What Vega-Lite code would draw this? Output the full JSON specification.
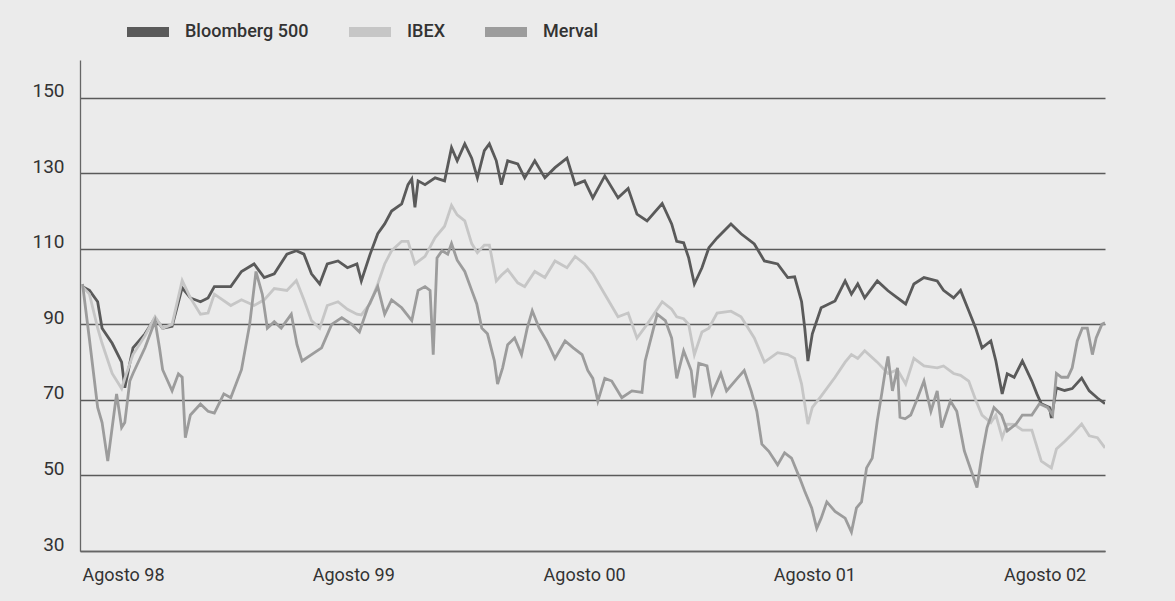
{
  "$schema": "https://vega.github.io/schema/vega-lite/v6.json",
  "width": 1025,
  "height": 491,
  "autosize": "none",
  "padding": {"left": 80, "top": 60, "right": 70, "bottom": 50},
  "background": "#ebebeb",
  "config": {
    "view": {"stroke": null},
    "font": "Roboto, sans-serif"
  },
  "data": {
    "values": [
      {"d":"1998-08-05","s":"Bloomberg 500","v":100},
      {"d":"1998-08-16","s":"Bloomberg 500","v":99},
      {"d":"1998-08-29","s":"Bloomberg 500","v":96},
      {"d":"1998-09-05","s":"Bloomberg 500","v":89},
      {"d":"1998-09-21","s":"Bloomberg 500","v":85},
      {"d":"1998-10-06","s":"Bloomberg 500","v":80},
      {"d":"1998-10-11","s":"Bloomberg 500","v":73.2},
      {"d":"1998-10-24","s":"Bloomberg 500","v":83.8},
      {"d":"1998-11-12","s":"Bloomberg 500","v":87.5},
      {"d":"1998-11-28","s":"Bloomberg 500","v":91.7},
      {"d":"1998-12-10","s":"Bloomberg 500","v":89},
      {"d":"1998-12-25","s":"Bloomberg 500","v":89.5},
      {"d":"1999-01-10","s":"Bloomberg 500","v":99.7},
      {"d":"1999-01-23","s":"Bloomberg 500","v":97},
      {"d":"1999-02-08","s":"Bloomberg 500","v":96},
      {"d":"1999-02-20","s":"Bloomberg 500","v":97},
      {"d":"1999-03-02","s":"Bloomberg 500","v":100},
      {"d":"1999-03-28","s":"Bloomberg 500","v":100},
      {"d":"1999-04-14","s":"Bloomberg 500","v":104},
      {"d":"1999-05-04","s":"Bloomberg 500","v":106},
      {"d":"1999-05-20","s":"Bloomberg 500","v":102.4},
      {"d":"1999-06-05","s":"Bloomberg 500","v":103.4},
      {"d":"1999-06-25","s":"Bloomberg 500","v":108.6},
      {"d":"1999-07-10","s":"Bloomberg 500","v":109.5},
      {"d":"1999-07-22","s":"Bloomberg 500","v":108.6},
      {"d":"1999-08-03","s":"Bloomberg 500","v":103.4},
      {"d":"1999-08-16","s":"Bloomberg 500","v":100.7},
      {"d":"1999-08-28","s":"Bloomberg 500","v":106},
      {"d":"1999-09-14","s":"Bloomberg 500","v":106.8},
      {"d":"1999-09-29","s":"Bloomberg 500","v":105},
      {"d":"1999-10-14","s":"Bloomberg 500","v":106},
      {"d":"1999-10-21","s":"Bloomberg 500","v":101.5},
      {"d":"1999-11-04","s":"Bloomberg 500","v":108.6},
      {"d":"1999-11-16","s":"Bloomberg 500","v":114},
      {"d":"1999-11-27","s":"Bloomberg 500","v":116.6},
      {"d":"1999-12-08","s":"Bloomberg 500","v":120},
      {"d":"1999-12-24","s":"Bloomberg 500","v":121.9},
      {"d":"2000-01-03","s":"Bloomberg 500","v":127},
      {"d":"2000-01-09","s":"Bloomberg 500","v":128.5},
      {"d":"2000-01-14","s":"Bloomberg 500","v":121},
      {"d":"2000-01-19","s":"Bloomberg 500","v":128},
      {"d":"2000-01-30","s":"Bloomberg 500","v":127},
      {"d":"2000-02-15","s":"Bloomberg 500","v":128.8},
      {"d":"2000-03-01","s":"Bloomberg 500","v":128},
      {"d":"2000-03-12","s":"Bloomberg 500","v":136.8},
      {"d":"2000-03-21","s":"Bloomberg 500","v":133.3},
      {"d":"2000-04-02","s":"Bloomberg 500","v":137.8},
      {"d":"2000-04-13","s":"Bloomberg 500","v":134},
      {"d":"2000-04-22","s":"Bloomberg 500","v":128.8},
      {"d":"2000-05-03","s":"Bloomberg 500","v":136},
      {"d":"2000-05-11","s":"Bloomberg 500","v":137.8},
      {"d":"2000-05-22","s":"Bloomberg 500","v":133.3},
      {"d":"2000-05-30","s":"Bloomberg 500","v":127},
      {"d":"2000-06-09","s":"Bloomberg 500","v":133.3},
      {"d":"2000-06-25","s":"Bloomberg 500","v":132.5},
      {"d":"2000-07-06","s":"Bloomberg 500","v":128.8},
      {"d":"2000-07-22","s":"Bloomberg 500","v":133.3},
      {"d":"2000-08-07","s":"Bloomberg 500","v":128.8},
      {"d":"2000-08-23","s":"Bloomberg 500","v":131.5},
      {"d":"2000-09-11","s":"Bloomberg 500","v":134},
      {"d":"2000-09-24","s":"Bloomberg 500","v":127},
      {"d":"2000-10-09","s":"Bloomberg 500","v":128},
      {"d":"2000-10-22","s":"Bloomberg 500","v":123.5},
      {"d":"2000-11-10","s":"Bloomberg 500","v":129.3},
      {"d":"2000-12-01","s":"Bloomberg 500","v":123.5},
      {"d":"2000-12-17","s":"Bloomberg 500","v":126},
      {"d":"2000-12-31","s":"Bloomberg 500","v":119.2},
      {"d":"2001-01-16","s":"Bloomberg 500","v":117.4},
      {"d":"2001-02-09","s":"Bloomberg 500","v":122},
      {"d":"2001-02-24","s":"Bloomberg 500","v":116.6},
      {"d":"2001-03-04","s":"Bloomberg 500","v":112},
      {"d":"2001-03-15","s":"Bloomberg 500","v":111.6},
      {"d":"2001-03-23","s":"Bloomberg 500","v":107.6},
      {"d":"2001-04-01","s":"Bloomberg 500","v":100.7},
      {"d":"2001-04-13","s":"Bloomberg 500","v":105},
      {"d":"2001-04-24","s":"Bloomberg 500","v":110.3},
      {"d":"2001-05-07","s":"Bloomberg 500","v":112.9},
      {"d":"2001-05-29","s":"Bloomberg 500","v":116.6},
      {"d":"2001-06-14","s":"Bloomberg 500","v":114},
      {"d":"2001-07-05","s":"Bloomberg 500","v":111.3},
      {"d":"2001-07-21","s":"Bloomberg 500","v":106.8},
      {"d":"2001-08-11","s":"Bloomberg 500","v":106},
      {"d":"2001-08-27","s":"Bloomberg 500","v":102.4},
      {"d":"2001-09-07","s":"Bloomberg 500","v":102.6},
      {"d":"2001-09-18","s":"Bloomberg 500","v":96},
      {"d":"2001-09-23","s":"Bloomberg 500","v":89},
      {"d":"2001-09-28","s":"Bloomberg 500","v":80.3},
      {"d":"2001-10-05","s":"Bloomberg 500","v":87.5},
      {"d":"2001-10-19","s":"Bloomberg 500","v":94.4},
      {"d":"2001-11-10","s":"Bloomberg 500","v":96.2},
      {"d":"2001-11-26","s":"Bloomberg 500","v":101.5},
      {"d":"2001-12-06","s":"Bloomberg 500","v":98},
      {"d":"2001-12-16","s":"Bloomberg 500","v":100.7},
      {"d":"2001-12-27","s":"Bloomberg 500","v":97},
      {"d":"2002-01-16","s":"Bloomberg 500","v":101.5},
      {"d":"2002-02-02","s":"Bloomberg 500","v":98.9},
      {"d":"2002-02-17","s":"Bloomberg 500","v":97},
      {"d":"2002-03-02","s":"Bloomberg 500","v":95.4},
      {"d":"2002-03-15","s":"Bloomberg 500","v":100.7},
      {"d":"2002-03-31","s":"Bloomberg 500","v":102.4},
      {"d":"2002-04-21","s":"Bloomberg 500","v":101.5},
      {"d":"2002-05-01","s":"Bloomberg 500","v":99},
      {"d":"2002-05-17","s":"Bloomberg 500","v":97},
      {"d":"2002-05-28","s":"Bloomberg 500","v":99},
      {"d":"2002-06-10","s":"Bloomberg 500","v":93.6},
      {"d":"2002-06-21","s":"Bloomberg 500","v":89},
      {"d":"2002-07-01","s":"Bloomberg 500","v":83.8},
      {"d":"2002-07-15","s":"Bloomberg 500","v":85.6},
      {"d":"2002-07-23","s":"Bloomberg 500","v":80.3},
      {"d":"2002-08-02","s":"Bloomberg 500","v":71.6},
      {"d":"2002-08-10","s":"Bloomberg 500","v":76.9},
      {"d":"2002-08-21","s":"Bloomberg 500","v":76},
      {"d":"2002-09-03","s":"Bloomberg 500","v":80.3},
      {"d":"2002-09-18","s":"Bloomberg 500","v":75},
      {"d":"2002-09-26","s":"Bloomberg 500","v":71.6},
      {"d":"2002-10-03","s":"Bloomberg 500","v":69},
      {"d":"2002-10-16","s":"Bloomberg 500","v":68},
      {"d":"2002-10-19","s":"Bloomberg 500","v":65.2},
      {"d":"2002-10-27","s":"Bloomberg 500","v":73.2},
      {"d":"2002-11-09","s":"Bloomberg 500","v":72.5},
      {"d":"2002-11-21","s":"Bloomberg 500","v":73},
      {"d":"2002-12-06","s":"Bloomberg 500","v":75.8},
      {"d":"2002-12-18","s":"Bloomberg 500","v":72.4},
      {"d":"2002-12-31","s":"Bloomberg 500","v":70.5},
      {"d":"2003-01-12","s":"Bloomberg 500","v":69},

      {"d":"1998-08-05","s":"IBEX","v":100},
      {"d":"1998-08-16","s":"IBEX","v":98},
      {"d":"1998-08-29","s":"IBEX","v":89},
      {"d":"1998-09-05","s":"IBEX","v":85},
      {"d":"1998-09-21","s":"IBEX","v":77},
      {"d":"1998-10-06","s":"IBEX","v":73},
      {"d":"1998-10-11","s":"IBEX","v":75.7},
      {"d":"1998-10-24","s":"IBEX","v":82},
      {"d":"1998-11-12","s":"IBEX","v":87},
      {"d":"1998-11-28","s":"IBEX","v":92},
      {"d":"1998-12-10","s":"IBEX","v":89},
      {"d":"1998-12-25","s":"IBEX","v":90},
      {"d":"1999-01-10","s":"IBEX","v":101.6},
      {"d":"1999-01-23","s":"IBEX","v":97},
      {"d":"1999-02-08","s":"IBEX","v":92.7},
      {"d":"1999-02-20","s":"IBEX","v":93},
      {"d":"1999-03-02","s":"IBEX","v":98},
      {"d":"1999-03-28","s":"IBEX","v":95},
      {"d":"1999-04-14","s":"IBEX","v":96.5},
      {"d":"1999-05-04","s":"IBEX","v":95},
      {"d":"1999-05-20","s":"IBEX","v":96.5},
      {"d":"1999-06-05","s":"IBEX","v":99.5},
      {"d":"1999-06-25","s":"IBEX","v":99},
      {"d":"1999-07-10","s":"IBEX","v":101.6},
      {"d":"1999-07-22","s":"IBEX","v":96.5},
      {"d":"1999-08-03","s":"IBEX","v":91},
      {"d":"1999-08-16","s":"IBEX","v":89},
      {"d":"1999-08-28","s":"IBEX","v":95},
      {"d":"1999-09-14","s":"IBEX","v":96},
      {"d":"1999-09-29","s":"IBEX","v":94},
      {"d":"1999-10-14","s":"IBEX","v":92.7},
      {"d":"1999-10-21","s":"IBEX","v":92.5},
      {"d":"1999-11-04","s":"IBEX","v":95.5},
      {"d":"1999-11-16","s":"IBEX","v":100.7},
      {"d":"1999-11-27","s":"IBEX","v":106},
      {"d":"1999-12-08","s":"IBEX","v":109.5},
      {"d":"1999-12-24","s":"IBEX","v":112},
      {"d":"2000-01-03","s":"IBEX","v":112},
      {"d":"2000-01-14","s":"IBEX","v":106},
      {"d":"2000-01-30","s":"IBEX","v":108},
      {"d":"2000-02-15","s":"IBEX","v":113},
      {"d":"2000-03-01","s":"IBEX","v":116},
      {"d":"2000-03-12","s":"IBEX","v":121.5},
      {"d":"2000-03-21","s":"IBEX","v":119},
      {"d":"2000-04-02","s":"IBEX","v":117.4},
      {"d":"2000-04-13","s":"IBEX","v":111.4},
      {"d":"2000-04-22","s":"IBEX","v":109},
      {"d":"2000-05-03","s":"IBEX","v":111},
      {"d":"2000-05-11","s":"IBEX","v":111},
      {"d":"2000-05-22","s":"IBEX","v":101.5},
      {"d":"2000-05-30","s":"IBEX","v":103},
      {"d":"2000-06-09","s":"IBEX","v":104.5},
      {"d":"2000-06-25","s":"IBEX","v":101},
      {"d":"2000-07-06","s":"IBEX","v":100},
      {"d":"2000-07-22","s":"IBEX","v":104},
      {"d":"2000-08-07","s":"IBEX","v":102.4},
      {"d":"2000-08-23","s":"IBEX","v":106.8},
      {"d":"2000-09-11","s":"IBEX","v":105},
      {"d":"2000-09-24","s":"IBEX","v":108},
      {"d":"2000-10-09","s":"IBEX","v":106},
      {"d":"2000-10-22","s":"IBEX","v":103.4},
      {"d":"2000-11-10","s":"IBEX","v":98},
      {"d":"2000-12-01","s":"IBEX","v":92},
      {"d":"2000-12-17","s":"IBEX","v":93},
      {"d":"2000-12-31","s":"IBEX","v":86.4},
      {"d":"2001-01-16","s":"IBEX","v":90},
      {"d":"2001-02-09","s":"IBEX","v":96},
      {"d":"2001-02-24","s":"IBEX","v":94},
      {"d":"2001-03-04","s":"IBEX","v":92},
      {"d":"2001-03-15","s":"IBEX","v":91.5},
      {"d":"2001-03-23","s":"IBEX","v":90},
      {"d":"2001-04-01","s":"IBEX","v":82},
      {"d":"2001-04-13","s":"IBEX","v":88},
      {"d":"2001-04-24","s":"IBEX","v":89},
      {"d":"2001-05-07","s":"IBEX","v":93},
      {"d":"2001-05-29","s":"IBEX","v":93.5},
      {"d":"2001-06-14","s":"IBEX","v":92},
      {"d":"2001-07-05","s":"IBEX","v":86.4},
      {"d":"2001-07-21","s":"IBEX","v":80},
      {"d":"2001-08-11","s":"IBEX","v":82.5},
      {"d":"2001-08-27","s":"IBEX","v":82},
      {"d":"2001-09-07","s":"IBEX","v":81},
      {"d":"2001-09-18","s":"IBEX","v":74.2},
      {"d":"2001-09-28","s":"IBEX","v":63.6},
      {"d":"2001-10-05","s":"IBEX","v":68},
      {"d":"2001-10-19","s":"IBEX","v":71},
      {"d":"2001-11-10","s":"IBEX","v":76},
      {"d":"2001-11-26","s":"IBEX","v":80},
      {"d":"2001-12-06","s":"IBEX","v":82},
      {"d":"2001-12-16","s":"IBEX","v":81},
      {"d":"2001-12-27","s":"IBEX","v":83},
      {"d":"2002-01-16","s":"IBEX","v":80},
      {"d":"2002-02-02","s":"IBEX","v":77},
      {"d":"2002-02-17","s":"IBEX","v":78},
      {"d":"2002-03-02","s":"IBEX","v":74.2},
      {"d":"2002-03-15","s":"IBEX","v":81},
      {"d":"2002-03-31","s":"IBEX","v":79},
      {"d":"2002-04-21","s":"IBEX","v":78.5},
      {"d":"2002-05-01","s":"IBEX","v":79},
      {"d":"2002-05-17","s":"IBEX","v":77},
      {"d":"2002-05-28","s":"IBEX","v":76.5},
      {"d":"2002-06-10","s":"IBEX","v":75},
      {"d":"2002-06-21","s":"IBEX","v":70},
      {"d":"2002-07-01","s":"IBEX","v":66},
      {"d":"2002-07-15","s":"IBEX","v":64},
      {"d":"2002-07-23","s":"IBEX","v":66},
      {"d":"2002-08-02","s":"IBEX","v":60},
      {"d":"2002-08-10","s":"IBEX","v":63.6},
      {"d":"2002-08-21","s":"IBEX","v":63.5},
      {"d":"2002-09-03","s":"IBEX","v":62},
      {"d":"2002-09-18","s":"IBEX","v":62},
      {"d":"2002-10-03","s":"IBEX","v":53.8},
      {"d":"2002-10-19","s":"IBEX","v":52},
      {"d":"2002-10-27","s":"IBEX","v":57},
      {"d":"2002-11-09","s":"IBEX","v":59},
      {"d":"2002-11-21","s":"IBEX","v":61},
      {"d":"2002-12-06","s":"IBEX","v":63.6},
      {"d":"2002-12-18","s":"IBEX","v":60.5},
      {"d":"2002-12-31","s":"IBEX","v":60},
      {"d":"2003-01-12","s":"IBEX","v":57.3},

      {"d":"1998-08-05","s":"Merval","v":100.7},
      {"d":"1998-08-16","s":"Merval","v":86},
      {"d":"1998-08-29","s":"Merval","v":68},
      {"d":"1998-09-05","s":"Merval","v":64},
      {"d":"1998-09-14","s":"Merval","v":53.8},
      {"d":"1998-09-21","s":"Merval","v":62.7},
      {"d":"1998-09-28","s":"Merval","v":71.6},
      {"d":"1998-10-06","s":"Merval","v":62.7},
      {"d":"1998-10-11","s":"Merval","v":64},
      {"d":"1998-10-19","s":"Merval","v":75},
      {"d":"1998-10-24","s":"Merval","v":77},
      {"d":"1998-11-12","s":"Merval","v":83.8},
      {"d":"1998-11-28","s":"Merval","v":90.9},
      {"d":"1998-12-05","s":"Merval","v":83.8},
      {"d":"1998-12-10","s":"Merval","v":78},
      {"d":"1998-12-25","s":"Merval","v":72.4},
      {"d":"1999-01-04","s":"Merval","v":76.9},
      {"d":"1999-01-10","s":"Merval","v":76},
      {"d":"1999-01-15","s":"Merval","v":60},
      {"d":"1999-01-23","s":"Merval","v":66},
      {"d":"1999-02-08","s":"Merval","v":68.9},
      {"d":"1999-02-20","s":"Merval","v":67},
      {"d":"1999-03-02","s":"Merval","v":66.5},
      {"d":"1999-03-17","s":"Merval","v":71.6},
      {"d":"1999-03-28","s":"Merval","v":70.6},
      {"d":"1999-04-14","s":"Merval","v":78},
      {"d":"1999-04-27","s":"Merval","v":90},
      {"d":"1999-05-07","s":"Merval","v":104},
      {"d":"1999-05-17","s":"Merval","v":98},
      {"d":"1999-05-25","s":"Merval","v":89},
      {"d":"1999-06-05","s":"Merval","v":90.7},
      {"d":"1999-06-16","s":"Merval","v":89},
      {"d":"1999-07-02","s":"Merval","v":92.7},
      {"d":"1999-07-11","s":"Merval","v":84.6},
      {"d":"1999-07-19","s":"Merval","v":80.3},
      {"d":"1999-08-03","s":"Merval","v":82},
      {"d":"1999-08-19","s":"Merval","v":83.8},
      {"d":"1999-09-04","s":"Merval","v":90},
      {"d":"1999-09-20","s":"Merval","v":91.8},
      {"d":"1999-10-06","s":"Merval","v":90},
      {"d":"1999-10-18","s":"Merval","v":88},
      {"d":"1999-10-31","s":"Merval","v":94.4},
      {"d":"1999-11-16","s":"Merval","v":100},
      {"d":"1999-11-27","s":"Merval","v":92.7},
      {"d":"1999-12-08","s":"Merval","v":96.5},
      {"d":"1999-12-24","s":"Merval","v":94.4},
      {"d":"2000-01-09","s":"Merval","v":91},
      {"d":"2000-01-19","s":"Merval","v":99},
      {"d":"2000-01-30","s":"Merval","v":100},
      {"d":"2000-02-07","s":"Merval","v":99},
      {"d":"2000-02-12","s":"Merval","v":82},
      {"d":"2000-02-18","s":"Merval","v":107.6},
      {"d":"2000-02-26","s":"Merval","v":109.5},
      {"d":"2000-03-06","s":"Merval","v":108.6},
      {"d":"2000-03-12","s":"Merval","v":111.4},
      {"d":"2000-03-21","s":"Merval","v":107},
      {"d":"2000-04-02","s":"Merval","v":104},
      {"d":"2000-04-13","s":"Merval","v":99},
      {"d":"2000-04-21","s":"Merval","v":95.4},
      {"d":"2000-04-29","s":"Merval","v":89},
      {"d":"2000-05-08","s":"Merval","v":87.5},
      {"d":"2000-05-19","s":"Merval","v":80.3},
      {"d":"2000-05-24","s":"Merval","v":74.2},
      {"d":"2000-06-01","s":"Merval","v":78.5},
      {"d":"2000-06-09","s":"Merval","v":84.6},
      {"d":"2000-06-20","s":"Merval","v":86.4},
      {"d":"2000-07-01","s":"Merval","v":82},
      {"d":"2000-07-10","s":"Merval","v":89},
      {"d":"2000-07-18","s":"Merval","v":93.6},
      {"d":"2000-07-29","s":"Merval","v":89},
      {"d":"2000-08-10","s":"Merval","v":85.6},
      {"d":"2000-08-23","s":"Merval","v":81},
      {"d":"2000-09-08","s":"Merval","v":85.6},
      {"d":"2000-09-21","s":"Merval","v":83.8},
      {"d":"2000-10-05","s":"Merval","v":82},
      {"d":"2000-10-14","s":"Merval","v":77.8},
      {"d":"2000-10-22","s":"Merval","v":75.7},
      {"d":"2000-10-30","s":"Merval","v":69.7},
      {"d":"2000-11-10","s":"Merval","v":75.7},
      {"d":"2000-11-21","s":"Merval","v":75},
      {"d":"2000-12-07","s":"Merval","v":70.6},
      {"d":"2000-12-23","s":"Merval","v":72.4},
      {"d":"2001-01-08","s":"Merval","v":72},
      {"d":"2001-01-13","s":"Merval","v":80.3},
      {"d":"2001-01-24","s":"Merval","v":87.5},
      {"d":"2001-02-01","s":"Merval","v":92.7},
      {"d":"2001-02-14","s":"Merval","v":91},
      {"d":"2001-02-24","s":"Merval","v":86.4},
      {"d":"2001-03-04","s":"Merval","v":75.7},
      {"d":"2001-03-15","s":"Merval","v":83},
      {"d":"2001-03-27","s":"Merval","v":77.8},
      {"d":"2001-04-01","s":"Merval","v":70.6},
      {"d":"2001-04-08","s":"Merval","v":79.7},
      {"d":"2001-04-21","s":"Merval","v":79},
      {"d":"2001-04-29","s":"Merval","v":71.6},
      {"d":"2001-05-13","s":"Merval","v":77},
      {"d":"2001-05-22","s":"Merval","v":72.4},
      {"d":"2001-06-08","s":"Merval","v":75.7},
      {"d":"2001-06-19","s":"Merval","v":77.8},
      {"d":"2001-06-30","s":"Merval","v":72.4},
      {"d":"2001-07-09","s":"Merval","v":67},
      {"d":"2001-07-17","s":"Merval","v":58.3},
      {"d":"2001-07-28","s":"Merval","v":56.4},
      {"d":"2001-08-11","s":"Merval","v":52.8},
      {"d":"2001-08-22","s":"Merval","v":56},
      {"d":"2001-09-02","s":"Merval","v":54.6},
      {"d":"2001-09-15","s":"Merval","v":49.3},
      {"d":"2001-09-23","s":"Merval","v":45.8},
      {"d":"2001-10-04","s":"Merval","v":41.4},
      {"d":"2001-10-12","s":"Merval","v":36},
      {"d":"2001-10-19","s":"Merval","v":38.7},
      {"d":"2001-10-28","s":"Merval","v":43},
      {"d":"2001-11-10","s":"Merval","v":40.5},
      {"d":"2001-11-26","s":"Merval","v":38.7},
      {"d":"2001-12-06","s":"Merval","v":35},
      {"d":"2001-12-14","s":"Merval","v":41.4},
      {"d":"2001-12-22","s":"Merval","v":43},
      {"d":"2001-12-30","s":"Merval","v":52},
      {"d":"2002-01-08","s":"Merval","v":54.6},
      {"d":"2002-01-16","s":"Merval","v":64.5},
      {"d":"2002-01-23","s":"Merval","v":71.6},
      {"d":"2002-01-28","s":"Merval","v":77},
      {"d":"2002-02-02","s":"Merval","v":81.5},
      {"d":"2002-02-09","s":"Merval","v":72.4},
      {"d":"2002-02-17","s":"Merval","v":78.5},
      {"d":"2002-02-21","s":"Merval","v":65.4},
      {"d":"2002-03-01","s":"Merval","v":65},
      {"d":"2002-03-10","s":"Merval","v":66},
      {"d":"2002-03-19","s":"Merval","v":69.7},
      {"d":"2002-03-31","s":"Merval","v":75},
      {"d":"2002-04-11","s":"Merval","v":67},
      {"d":"2002-04-21","s":"Merval","v":72.4},
      {"d":"2002-04-28","s":"Merval","v":62.7},
      {"d":"2002-05-12","s":"Merval","v":69.7},
      {"d":"2002-05-22","s":"Merval","v":67},
      {"d":"2002-06-03","s":"Merval","v":56.5},
      {"d":"2002-06-14","s":"Merval","v":51.2},
      {"d":"2002-06-23","s":"Merval","v":46.8},
      {"d":"2002-07-01","s":"Merval","v":55.5},
      {"d":"2002-07-09","s":"Merval","v":62.7},
      {"d":"2002-07-20","s":"Merval","v":68},
      {"d":"2002-08-01","s":"Merval","v":66},
      {"d":"2002-08-10","s":"Merval","v":61.8},
      {"d":"2002-08-24","s":"Merval","v":63.6},
      {"d":"2002-09-03","s":"Merval","v":66},
      {"d":"2002-09-18","s":"Merval","v":66},
      {"d":"2002-09-30","s":"Merval","v":69},
      {"d":"2002-10-13","s":"Merval","v":68},
      {"d":"2002-10-21","s":"Merval","v":66},
      {"d":"2002-10-27","s":"Merval","v":77},
      {"d":"2002-11-04","s":"Merval","v":76},
      {"d":"2002-11-14","s":"Merval","v":76},
      {"d":"2002-11-21","s":"Merval","v":78.5},
      {"d":"2002-11-29","s":"Merval","v":85.6},
      {"d":"2002-12-07","s":"Merval","v":89},
      {"d":"2002-12-15","s":"Merval","v":89},
      {"d":"2002-12-23","s":"Merval","v":82},
      {"d":"2002-12-29","s":"Merval","v":86.4},
      {"d":"2003-01-07","s":"Merval","v":90},
      {"d":"2003-01-12","s":"Merval","v":90.4}
    ]
  },
  "mark": {"type": "line", "strokeWidth": 2.8, "strokeJoin": "miter", "clip": true},
  "encoding": {
    "x": {
      "field": "d",
      "type": "temporal",
      "scale": {
        "type": "utc",
        "domain": [
          {"year": 1998, "month": 8, "date": 1, "utc": true},
          {"year": 2003, "month": 1, "date": 12, "utc": true}
        ]
      },
      "axis": {
        "title": null,
        "values": [
          {"year": 1998, "month": 8, "date": 1, "utc": true},
          {"year": 1999, "month": 8, "date": 1, "utc": true},
          {"year": 2000, "month": 8, "date": 1, "utc": true},
          {"year": 2001, "month": 8, "date": 1, "utc": true},
          {"year": 2002, "month": 8, "date": 1, "utc": true}
        ],
        "labelExpr": "'Agosto ' + utcFormat(datum.value, '%y')",
        "labelAlign": "left",
        "labelBaseline": "alphabetic",
        "labelFontSize": 18,
        "labelColor": "#333333",
        "labelPadding": 29,
        "labelOffset": 2,
        "ticks": false,
        "grid": false,
        "domain": true,
        "domainColor": "#666666",
        "domainWidth": 1.3,
        "labelFlush": false,
        "labelOverlap": false
      }
    },
    "y": {
      "field": "v",
      "type": "quantitative",
      "scale": {"domain": [30, 160], "nice": false, "zero": false},
      "axis": {
        "title": null,
        "values": [30, 50, 70, 90, 110, 130, 150],
        "grid": true,
        "gridColor": "#5a5a5a",
        "gridWidth": 1.3,
        "ticks": false,
        "domain": true,
        "domainColor": "#666666",
        "domainWidth": 1.3,
        "labelFontSize": 19,
        "labelColor": "#333333",
        "labelPadding": 16,
        "labelBaseline": "alphabetic",
        "labelOffset": -1
      }
    },
    "color": {
      "field": "s",
      "type": "nominal",
      "sort": ["Bloomberg 500", "IBEX", "Merval"],
      "scale": {
        "domain": ["Bloomberg 500", "IBEX", "Merval"],
        "range": ["#5a5a5a", "#c6c6c6", "#9c9c9c"]
      },
      "legend": {
        "title": null,
        "orient": "none",
        "direction": "horizontal",
        "legendX": 42,
        "legendY": -54,
        "symbolType": "stroke",
        "symbolSize": 1764,
        "symbolStrokeWidth": 10,
        "labelFontSize": 18,
        "labelFontWeight": 500,
        "labelColor": "#333333",
        "labelOffset": 11,
        "columnPadding": 20
      }
    }
  }
}
